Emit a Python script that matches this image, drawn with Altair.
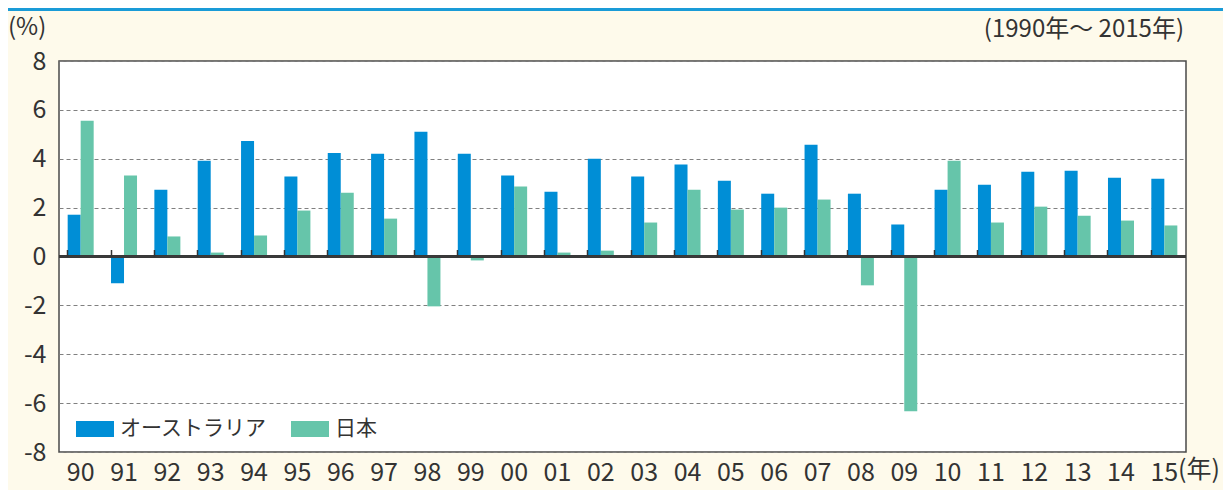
import altair as alt
import pandas as pd

years = ["90", "91", "92", "93", "94", "95", "96", "97", "98", "99", "00", "01", "02",
         "03", "04", "05", "06", "07", "08", "09", "10", "11", "12", "13", "14", "15"]
australia = [1.71, -1.09, 2.73, 3.92, 4.73, 3.27, 4.24, 4.20, 5.10, 4.20, 3.31, 2.65, 4.00,
             3.27, 3.76, 3.10, 2.57, 4.57, 2.57, 1.31, 2.73, 2.94, 3.47, 3.51, 3.22, 3.18]
japan = [5.55, 3.31, 0.82, 0.16, 0.86, 1.88, 2.61, 1.55, -2.04, -0.16, 2.86, 0.16, 0.24,
         1.39, 2.73, 1.92, 2.00, 2.33, -1.18, -6.33, 3.92, 1.39, 2.04, 1.67, 1.47, 1.27]
series = ["オーストラリア", "日本"]
colors = ["#008ED6", "#66C5AA"]
y_ticks = [-8, -6, -4, -2, 0, 2, 4, 6, 8]

FONT = "Noto Sans CJK JP"
TXT = "#333333"

rows = []
for i, y in enumerate(years):
    rows.append({"year": y, "series": series[0], "value": australia[i]})
    rows.append({"year": y, "series": series[1], "value": japan[i]})
df = pd.DataFrame(rows)

W, H = 1127, 391
PL, PT = 51, 53
TOTAL_W, TOTAL_H = 1215, 482
PR = TOTAL_W - PL - W
PB = TOTAL_H - PT - H

xscale = alt.Scale(domain=years, paddingInner=0.4, paddingOuter=0.2)

bars = alt.Chart(df).mark_bar().encode(
    x=alt.X("year:N", scale=xscale, sort=years,
            axis=alt.Axis(title=None, labelAngle=0, domain=False, ticks=False,
                          labelFontSize=25, labelFont=FONT, labelColor=TXT,
                          labelPadding=8)),
    xOffset=alt.XOffset("series:N", sort=series,
                        scale=alt.Scale(domain=series, paddingInner=0, paddingOuter=0)),
    y=alt.Y("value:Q", scale=alt.Scale(domain=[-8, 8], nice=False, zero=False),
            axis=alt.Axis(title=None, values=y_ticks, grid=True, gridDash=[4, 3],
                          gridColor="#808080", gridWidth=1, domain=False, ticks=False,
                          labelFontSize=25, labelFont=FONT, labelColor=TXT,
                          labelExpr="'' + datum.value",
                          labelPadding=13)),
    color=alt.Color("series:N", sort=series,
                    scale=alt.Scale(domain=series, range=colors),
                    legend=alt.Legend(title=None, orient="none", legendX=17, legendY=349,
                                      direction="horizontal",
                                      symbolType="M-1,-0.42H1V0.42H-1Z", symbolSize=1444,
                                      symbolStrokeWidth=0, symbolOpacity=1,
                                      labelFontSize=21, labelFont=FONT, labelColor=TXT,
                                      labelOffset=6, columnPadding=24, padding=0)),
)

zero = alt.Chart(df).mark_rule(color="#3a3a3a", strokeWidth=1.6).encode(y=alt.datum(0))

ticks = alt.Chart(df).mark_bar(opacity=0).encode(
    x=alt.X("year:N", scale=xscale, sort=years,
            axis=alt.Axis(title=None, orient="top", offset=-H / 2, bandPosition=0,
                          labels=False, domain=False, ticks=True, tickSize=7,
                          tickWidth=1.5, tickColor="#333333", zindex=2)),
)

ann = pd.DataFrame({"t": ["(%)"]})
pct = alt.Chart(ann).mark_text(text="(%)", font=FONT, fontSize=24, color=TXT,
                               align="left", baseline="middle").encode(
    x=alt.value(-PL), y=alt.value(-33))
period = alt.Chart(ann).mark_text(text="(1990年～ 2015年)", font=FONT, fontSize=24, color=TXT,
                                  align="right", baseline="middle").encode(
    x=alt.value(1125), y=alt.value(-31))
nen = alt.Chart(ann).mark_text(text="(年)", font=FONT, fontSize=25, color=TXT,
                               align="left", baseline="middle").encode(
    x=alt.value(1119), y=alt.value(409))
topline = alt.Chart(ann).mark_rule(color="#1A9BD7", strokeWidth=3).encode(
    x=alt.value(-PL), x2=alt.value(W + PR), y=alt.value(-PT + 1.5))

chart = alt.layer(bars, zero, ticks, pct, period, nen, topline).resolve_axis(
    x="independent"
).properties(
    width=W, height=H,
    autosize=alt.AutoSizeParams(type="none"),
    padding={"left": PL, "top": PT, "right": PR, "bottom": PB},
    background="#FEFAEB",
).configure_view(
    fill="white", stroke="#4a4a4a", strokeWidth=1.5
)

chart.save("out.html", embed_options={"renderer": "svg", "actions": False})
